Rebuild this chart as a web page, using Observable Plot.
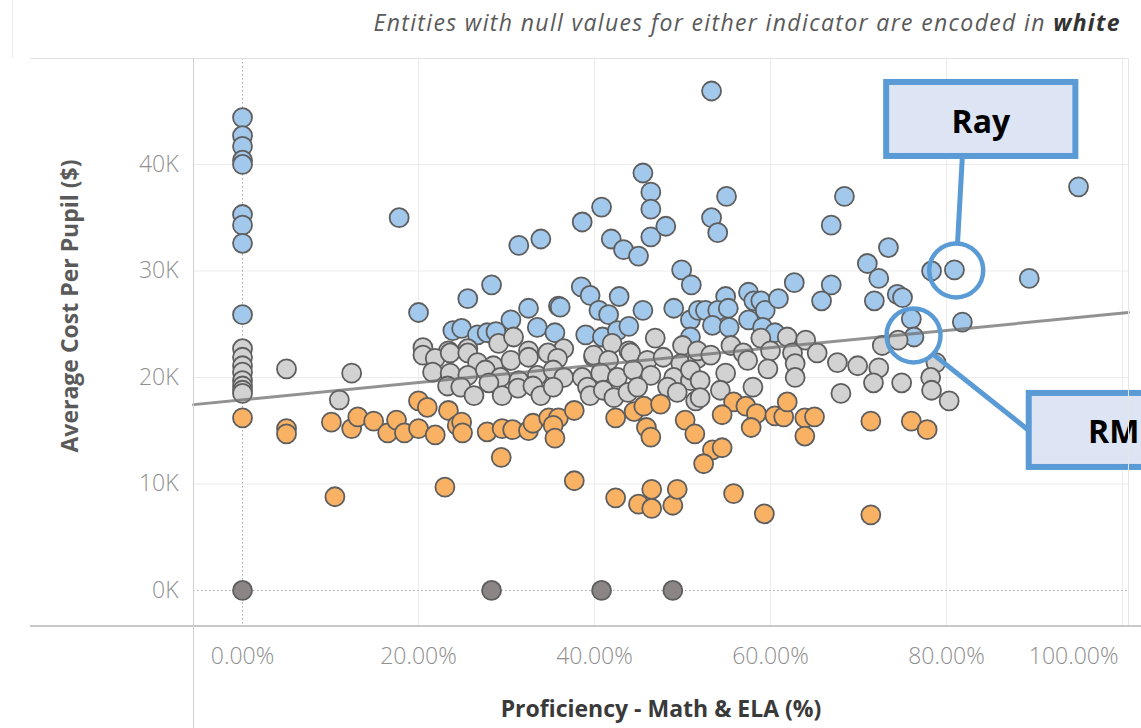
<!DOCTYPE html>
<html>
<head>
<meta charset="utf-8">
<script src="https://cdn.jsdelivr.net/npm/d3@7"></script>
<script src="https://cdn.jsdelivr.net/npm/@observablehq/plot@0.6"></script>
<style>
  html, body { margin: 0; padding: 0; background: #fff; }
  #wrap { position: relative; width: 1141px; height: 728px; overflow: hidden; }
  #title { height: 45px; line-height: 45px; text-align: right; padding-right: 20px;
           font-family: "Open Sans", sans-serif; font-style: italic; font-size: 23px; letter-spacing: 1.35px; color: #5a5a5a; }
  #title b { color: #333; }
  .pane { position: absolute; background: #d4d4d4; }
</style>
</head>
<body>
<div id="wrap">
  <div id="title">Entities with null values for either indicator are encoded in <b>white</b></div>
  <div id="chart"></div>
  <div class="pane" style="left:30px; top:58px; width:1098px; height:1px; background:#e2e2e2"></div>
  <div class="pane" style="left:30px; top:625px; width:1111px; height:2px; background:#c8c8c8"></div>
  <div class="pane" style="left:193px; top:58px; width:1px; height:670px; background:#cfcfcf"></div>
  <div class="pane" style="left:1128px; top:58px; width:1px; height:567px; background:#e6e6e6"></div>
  <div class="pane" style="left:12px; top:0px; width:1px; height:58px; background:#ececec"></div>
</div>
<script>
// Proficiency (%) and average cost per pupil ($)
const aboveTrend = [
  [0,44400],[0,42700],[0,41700],[0,40400],[0,40000],[0,35300],[0,34300],[0,32600],[0,25900],
  [17.8,35000],[20.0,26100],[25.6,27400],[28.3,28700],[31.4,32400],[33.9,33000],[32.5,26500],[35.9,26700],[30.5,25400],[33.5,24700],[35.5,24200],[23.9,24400],[24.9,24600],[26.7,24000],[27.8,24200],[28.8,24300],
  [38.6,34600],[38.5,28500],[39.5,27700],[42.8,27600],[40.5,26300],[41.6,25900],[45.5,26300],[49.0,26500],[50.9,25400],[51.8,26300],[39.0,24000],[40.9,23800],[42.6,24400],[43.9,24800],[50.9,23800],
  [53.3,46900],[45.5,39200],[46.4,37400],[46.4,35800],[46.4,33200],[48.1,34200],[40.8,36000],[41.9,33000],[43.3,32000],[45.0,31400],[49.9,30100],[51.0,28700],[55.0,37000],[53.3,35000],[54.0,33600],
  [68.4,37000],[66.9,34300],[95.0,37900],[73.4,32200],[71.0,30700],[72.3,29300],[78.3,30000],[80.9,30100],[89.4,29300],[62.7,28900],[66.9,28700],[65.8,27200],[71.8,27200],[74.4,27800],[75.0,27500],[76.0,25500],[76.3,23800],[81.8,25200],
  [54.9,27600],[57.5,28000],[58.1,27200],[58.9,27200],[59.4,26300],[60.9,27400],[52.6,26300],[54.0,26300],[55.2,26500],[53.4,24900],[55.3,24700],[57.5,25400],[59.1,24700],[60.5,24200],[36.1,26600]
];
const nearTrend = [
  [0,22700],[0,21900],[0,21100],[0,20500],[0,19700],[0,19200],[0,18800],[0,18500],
  [5.0,20800],[12.4,20400],[11.0,17900],
  [20.5,22800],[23.4,22500],[25.6,22700],[29.1,23200],[30.8,23800],[32.5,22500],[36.5,22700],[39.9,21900],[42.0,23200],[43.9,22500],[46.9,23700],[50.0,23000],
  [20.5,22100],[21.9,21800],[23.6,22300],[25.6,22300],[26.7,21400],[28.5,21100],[30.5,21600],[32.5,21900],[34.7,22300],[35.8,21800],[39.9,22100],[41.6,21600],[44.1,22300],[46.0,21600],[47.8,21900],[49.8,21300],[51.7,21800],
  [21.6,20500],[23.6,20400],[25.6,20200],[27.6,20700],[29.3,20000],[31.4,19700],[33.5,20200],[35.3,20700],[36.5,20000],[38.6,20000],[40.7,20400],[42.6,20000],[44.4,20700],[46.4,20200],[49.0,20000],[50.9,19700],
  [23.3,19200],[24.8,19100],[26.3,18300],[28.0,19500],[29.5,18300],[31.3,19000],[33.0,19200],[33.9,18300],[35.3,19100],[39.2,19100],[39.5,18300],[41.0,18800],[42.2,18100],[43.8,18600],[44.9,19100],[48.3,19100],[49.4,18600],[51.5,17800],
  [51.7,22500],[53.2,22100],[55.5,23000],[56.9,22300],[58.9,23700],[60.0,22500],[61.9,23800],[62.5,22300],[64.0,23500],[65.3,22300],[67.6,21400],[69.9,21100],[72.3,20900],[72.7,23000],[74.5,23500],[78.8,21400],[78.2,20000],[78.3,18800],[80.3,17800],
  [50.9,20700],[52.0,19700],[52.0,18100],[54.9,20400],[54.3,18800],[58.0,19100],[57.4,21600],[59.7,20800],[62.8,21300],[62.8,20000],[71.7,19500],[74.9,19500],[68.0,18500]
];
const belowTrend = [
  [0,16200],[5.0,15200],[5.0,14700],[10.1,15800],[12.4,15200],[13.1,16300],[14.9,15900],[16.5,14800],[17.5,16000],[18.4,14800],[20.0,15200],[20.0,17800],[21.0,17200],[21.9,14600],[23.4,16900],[24.4,15500],[24.9,15800],[25.0,14800],[27.8,14900],[29.5,15200],[30.7,15100],[29.4,12500],[32.5,15000],[33.0,15700],[34.8,16200],[35.9,16200],[35.3,15500],[35.5,14300],[37.7,16900],[37.7,10300],[10.5,8800],[23.0,9700],
  [42.4,16200],[44.5,16800],[45.6,17300],[47.5,17500],[45.9,15300],[46.4,14400],[50.3,16000],[51.4,14700],[55.8,17700],[57.2,17300],[58.4,16600],[57.8,15300],[54.5,16500],[60.5,16400],[61.5,16300],[61.9,17700],[63.9,16200],[65.0,16300],[63.9,14500],[71.4,15900],[76.0,15900],[77.8,15100],[53.4,13200],[54.5,13400],[52.4,11900],
  [42.4,8700],[45.0,8100],[46.5,9500],[46.5,7700],[48.9,8000],[49.4,9500],[55.8,9100],[59.3,7200],[71.4,7100]
];
const nullCost = [[0,0],[28.3,0],[40.8,0],[48.9,0]];

// trend line end points (as drawn across the pane)
const trendX = [-5.57, 100.68];
const trendY = [17450, 26100];

// axis ticks
const xTicks = [0, 20, 40, 60, 80, 100];
const yTicks = [0, 10000, 20000, 30000, 40000];

// callouts
const calloutLabels = ["Ray", "RM"];
const calloutBoxX1 = [73.2, 89.4];
const calloutBoxX2 = [94.7, 110.9];
const calloutBoxYTop = [47700, 18500];
const calloutBoxYBottom = [40750, 11550];
const calloutTextX = [83.9, 99.0];
const calloutTextY = [43900, 14800];
const calloutRingX = [81.1, 76.25];
const calloutRingY = [30050, 23950];
const calloutLeaderFromX = [81.8, 78.6];
const calloutLeaderFromY = [40750, 22100];
const calloutLeaderToX = [81.25, 89.4];
const calloutLeaderToY = [32600, 15000];

const trend = trendX.map((x, i) => ({x, y: trendY[i]}));
const boxes = calloutLabels.map((label, i) => ({label, x1: calloutBoxX1[i], x2: calloutBoxX2[i], y1: calloutBoxYBottom[i], y2: calloutBoxYTop[i], tx: calloutTextX[i], ty: calloutTextY[i], rx: calloutRingX[i], ry: calloutRingY[i], lx1: calloutLeaderFromX[i], ly1: calloutLeaderFromY[i], lx2: calloutLeaderToX[i], ly2: calloutLeaderToY[i]}));

const dotStyle = {x: d => d[0], y: d => d[1], r: 9.5, stroke: "#5e5e5e", strokeWidth: 1.8};
const calloutBlue = "#5b9bd5";

const chart = Plot.plot({
  width: 1141,
  height: 683,
  marginTop: 13,
  marginBottom: 103,
  marginLeft: 193,
  marginRight: 13,
  style: {fontFamily: "'Open Sans', sans-serif", fontSize: "23px", fontWeight: 300, color: "#8f8f8f", background: "transparent", overflow: "visible"},
  x: {domain: [-5.57, 100.68], ticks: xTicks, tickFormat: d => d.toFixed(2) + "%", label: null, tickSize: 0, tickPadding: 22},
  y: {domain: [-3290, 49950], ticks: yTicks, tickFormat: d => (d / 1000) + "K", label: null, tickSize: 0, tickPadding: 15},
  marks: [
    Plot.gridX(xTicks.filter(d => d !== 0), {stroke: "#ececec", strokeOpacity: 1}),
    Plot.gridY(yTicks.filter(d => d !== 0), {stroke: "#ececec", strokeOpacity: 1}),
    Plot.ruleX([0], {stroke: "#a8a8a8", strokeDasharray: "1.5,2.5"}),
    Plot.ruleY([0], {stroke: "#a8a8a8", strokeDasharray: "1.5,2.5"}),
    Plot.dot(aboveTrend, {...dotStyle, fill: "#a2c9ec"}),
    Plot.dot(nearTrend, {...dotStyle, fill: "#d2d2d2"}),
    Plot.dot(belowTrend, {...dotStyle, fill: "#f9b264"}),
    Plot.dot(nullCost, {...dotStyle, fill: "#8b8585"}),
    Plot.line(trend, {x: "x", y: "y", stroke: "#6e6e6e", strokeWidth: 3, strokeOpacity: 0.75}),
    Plot.text(["Proficiency - Math & ELA (%)"], {frameAnchor: "bottom", dy: 91, fontWeight: "bold", fontSize: 23, fill: "#3a3a3a"}),
    Plot.text(["Average Cost Per Pupil ($)"], {frameAnchor: "left", textAnchor: "middle", dx: -123, dy: -36, rotate: -90, fontWeight: "bold", fontSize: 23, fill: "#5a5a5a"}),
    Plot.link(boxes, {x1: "lx1", y1: "ly1", x2: "lx2", y2: "ly2", stroke: calloutBlue, strokeWidth: 5}),
    Plot.dot(boxes, {x: "rx", y: "ry", r: 27, stroke: calloutBlue, strokeWidth: 4.5, fill: "none"}),
    Plot.rect(boxes, {x1: "x1", x2: "x2", y1: "y1", y2: "y2", fill: "#dde4f3", stroke: calloutBlue, strokeWidth: 6}),
    Plot.text(boxes, {x: "tx", y: "ty", text: "label", fontWeight: "bold", fontSize: 32, fill: "#000"})
  ]
});
document.getElementById("chart").appendChild(chart);
// last x tick label right-aligned so it fits, as in the original
const xt = d3.select(chart).selectAll("g[aria-label='x-axis tick label'] text");
xt.filter((d, i, n) => i === n.length - 1).attr("text-anchor", "end").attr("dx", "-4");
</script>
</body>
</html>
